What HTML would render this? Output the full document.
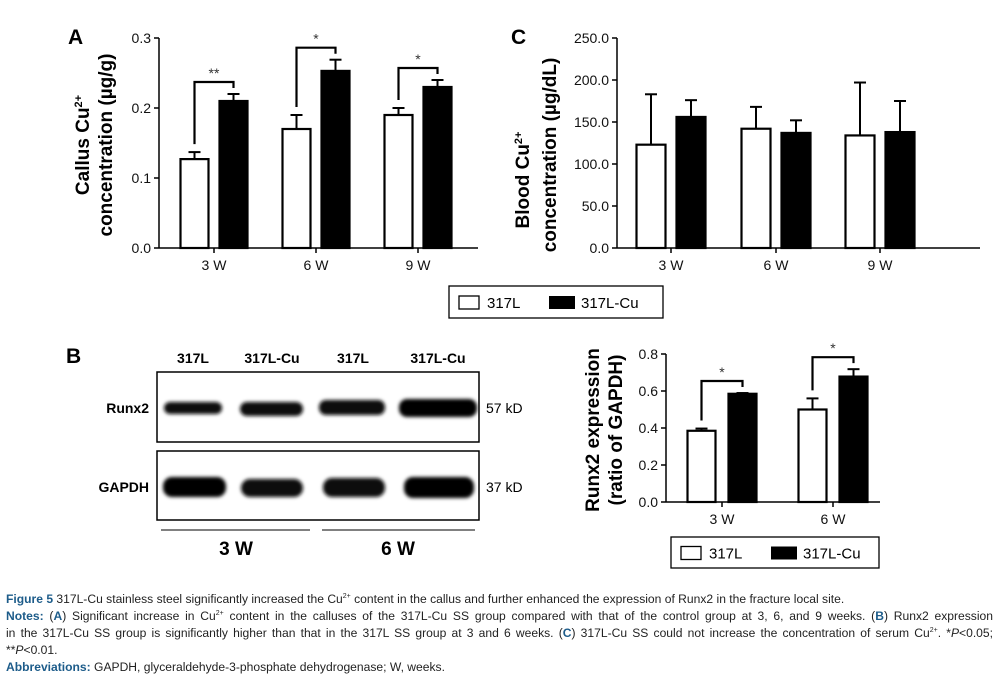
<!DOCTYPE html>
<html><head><meta charset="utf-8"><style>
body{margin:0;background:#fff;width:1002px;height:679px;overflow:hidden;font-family:"Liberation Sans",sans-serif}
svg text{font-family:"Liberation Sans",sans-serif}
.cap{position:absolute;left:6px;width:987px;font-size:12.1px;line-height:17px;color:#222;white-space:nowrap}
.cap div{height:17px}
.cap .j{text-align:justify;text-align-last:justify}
.cap b{color:#1d5c8a}
.cap sup{font-size:7px;vertical-align:baseline;line-height:0;position:relative;top:-5px}
</style></head><body>
<svg id="fig" width="1002" height="590" style="position:absolute;left:0;top:0">
<defs><filter id="blur"><feGaussianBlur stdDeviation="1.8"/></filter></defs>
<g id="blot">
<text x="66" y="363" font-size="21" font-weight="bold">B</text>
<rect x="157" y="372" width="322" height="70" fill="none" stroke="#000" stroke-width="1.5"/>
<rect x="157" y="451" width="322" height="69" fill="none" stroke="#000" stroke-width="1.5"/>
<g filter="url(#blur)">
<rect x="164" y="402" width="58" height="12" rx="6" fill="#111"/>
<rect x="240" y="402" width="63" height="14" rx="7" fill="#111"/>
<rect x="319" y="400" width="66" height="15" rx="7" fill="#111"/>
<rect x="399" y="399" width="78" height="18" rx="8" fill="#000"/>
<rect x="163" y="477" width="63" height="20" rx="9" fill="#000"/>
<rect x="241" y="479" width="62" height="18" rx="9" fill="#111"/>
<rect x="323" y="478" width="62" height="19" rx="9" fill="#111"/>
<rect x="404" y="477" width="70" height="21" rx="9" fill="#000"/>
</g>
<g font-size="14" font-weight="bold" text-anchor="middle">
<text x="193" y="363">317L</text><text x="272" y="363">317L-Cu</text>
<text x="353" y="363">317L</text><text x="438" y="363">317L-Cu</text>
</g>
<text x="149" y="413" font-size="14" font-weight="bold" text-anchor="end">Runx2</text>
<text x="149" y="492" font-size="14" font-weight="bold" text-anchor="end">GAPDH</text>
<text x="486" y="413" font-size="14">57 kD</text>
<text x="486" y="492" font-size="14">37 kD</text>
<line x1="161" y1="530" x2="310" y2="530" stroke="#000"/>
<line x1="322" y1="530" x2="475" y2="530" stroke="#000"/>
<text x="236" y="555" font-size="19" font-weight="bold" text-anchor="middle">3 W</text>
<text x="398" y="555" font-size="19" font-weight="bold" text-anchor="middle">6 W</text>
</g>
</svg>
<div class="cap" style="top:591px">
<div><b>Figure 5</b> 317L-Cu stainless steel significantly increased the Cu<sup>2+</sup> content in the callus and further enhanced the expression of Runx2 in the fracture local site.</div>
<div class="j"><b>Notes:</b> (<b>A</b>) Significant increase in Cu<sup>2+</sup> content in the calluses of the 317L-Cu SS group compared with that of the control group at 3, 6, and 9 weeks. (<b>B</b>) Runx2 expression</div>
<div class="j">in the 317L-Cu SS group is significantly higher than that in the 317L SS group at 3 and 6 weeks. (<b>C</b>) 317L-Cu SS could not increase the concentration of serum Cu<sup>2+</sup>. *<i>P</i>&lt;0.05;</div>
<div>**<i>P</i>&lt;0.01.</div>
<div><b>Abbreviations:</b> GAPDH, glyceraldehyde-3-phosphate dehydrogenase; W, weeks.</div>
</div>
<script>
// Panel A data
const catsA = ["3 W","6 W","9 W"];
const ctrlA = [0.127,0.170,0.190];
const ctrlErrA = [0.010,0.020,0.010];
const cuA = [0.210,0.253,0.230];
const cuErrA = [0.010,0.016,0.010];
const sigA = ["**","*","*"];
const ticksA = ["0.0","0.1","0.2","0.3"];
// Panel C data
const catsC = ["3 W","6 W","9 W"];
const ctrlC = [123,142,134];
const ctrlErrC = [60,26,63];
const cuC = [156,137,138];
const cuErrC = [20,15,37];
const ticksC = ["0.0","50.0","100.0","150.0","200.0","250.0"];
// Panel B data
const catsB = ["3 W","6 W"];
const ctrlB = [0.385,0.500];
const ctrlErrB = [0.012,0.060];
const cuB = [0.585,0.678];
const cuErrB = [0.004,0.040];
const sigB = ["*","*"];
const ticksB = ["0.0","0.2","0.4","0.6","0.8"];

const NS="http://www.w3.org/2000/svg";
const svg=document.getElementById('fig');
function el(tag,attrs,parent){const e=document.createElementNS(NS,tag);for(const k in attrs)e.setAttribute(k,attrs[k]);(parent||svg).appendChild(e);return e;}
function txt(s,attrs,parent){const e=el('text',attrs,parent);e.textContent=s;return e;}

function panel(cfg){
  const g=el('g',{});
  
  
  const {x0,x1,y0,y1,max}=cfg;
  const Y=v=>y0-(v/max)*(y0-y1);
  const ya=el('line',{x1:x0,y1:y1,x2:x0,y2:y0,stroke:'#000','stroke-width':1.5},g);
  
  
  const xa=el('line',{x1:x0,y1:y0,x2:x1,y2:y0,stroke:'#000','stroke-width':1.5},g);
  
  
  cfg.ticks.forEach((t)=>{
    const v=parseFloat(t);const yy=Y(v);
    el('line',{x1:x0-5,y1:yy,x2:x0,y2:yy,stroke:'#000','stroke-width':1.5},g);
    const tl=txt(t,{x:x0-8,y:yy+5,'font-size':14,'text-anchor':'end',fill:'#111'},g);
    
    
  });
  cfg.cats.forEach((c,i)=>{
    const cx=cfg.tx[i];
    el('line',{x1:cx,y1:y0,x2:cx,y2:y0+5,stroke:'#000','stroke-width':1.5},g);
    const cl=txt(c,{x:cx,y:y0+22,'font-size':14,'text-anchor':'middle',fill:'#111'},g);
    
    
    const w=cfg.bw,gap=cfg.gap;
    const xs=[cx-gap/2-w,cx+gap/2];
    const vals=[cfg.ctrl[i],cfg.cu[i]],errs=[cfg.ctrlErr[i],cfg.cuErr[i]];
    vals.forEach((v,j)=>{
      const bx=xs[j];
      el('line',{x1:bx+w/2,y1:Y(v),x2:bx+w/2,y2:Y(v+errs[j]),stroke:'#000','stroke-width':2},g);
      el('line',{x1:bx+w/2-6,y1:Y(v+errs[j]),x2:bx+w/2+6,y2:Y(v+errs[j]),stroke:'#000','stroke-width':2},g);
      const r=el('rect',{x:bx,y:Y(v),width:w,height:y0-Y(v),fill:j?'#000':'#fff',stroke:'#000','stroke-width':2.2},g);
      
      
    });
    if(cfg.sig){
      const lx=xs[0]+w/2,rx=xs[1]+w/2;
      const top=Math.min(Y(vals[0]+errs[0]),Y(vals[1]+errs[1]))-cfg.bh;
      el('polyline',{points:`${lx},${Y(vals[0]+errs[0])-8} ${lx},${top} ${rx},${top} ${rx},${Y(vals[1]+errs[1])-6}`,fill:'none',stroke:'#000','stroke-width':2.2},g);
      const s=txt(cfg.sig[i],{x:(lx+rx)/2,y:top-4,'font-size':14,'text-anchor':'middle',fill:'#333'},g);
      
      
    }
  });
  return {g,Y};
}
function ytitleLine(html,x,y,g){
  const t=el('text',{transform:`translate(${x},${y}) rotate(-90)`,'font-size':19,'font-weight':'bold','text-anchor':'middle'},g);
  
  
  t.innerHTML=html;
}
function legend(x,y,w,h){
  const g=el('g',{});
  
  
  el('rect',{x:x,y:y,width:w,height:h,fill:'#fff',stroke:'#000','stroke-width':1.3},g);
  el('rect',{x:x+10,y:y+h/2-6,width:20,height:13,fill:'#fff',stroke:'#000','stroke-width':1.3},g);
  txt('317L',{x:x+38,y:y+h/2+6,'font-size':15},g);
  el('rect',{x:x+100,y:y+h/2-6,width:26,height:13,fill:'#000'},g);
  txt('317L-Cu',{x:x+132,y:y+h/2+6,'font-size':15},g);
}
const A=panel({name:'chart-a-callus',x0:159,x1:478,y0:248,y1:38,max:0.3,ticks:ticksA,cats:catsA,tx:[214,316,418],bw:28,gap:11,ctrl:ctrlA,ctrlErr:ctrlErrA,cu:cuA,cuErr:cuErrA,sig:sigA,bh:12});
txt('A',{x:68,y:44,'font-size':21,'font-weight':'bold'},A.g);
ytitleLine('Callus Cu<tspan font-size="11" dy="-7">2+</tspan>',89,145,A.g);
ytitleLine('concentration (µg/g)',112,145,A.g);
const C=panel({name:'chart-c-blood',x0:617,x1:980,y0:248,y1:38,max:250,ticks:ticksC,cats:catsC,tx:[671,776,880],bw:29,gap:11,ctrl:ctrlC,ctrlErr:ctrlErrC,cu:cuC,cuErr:cuErrC});
txt('C',{x:511,y:44,'font-size':21,'font-weight':'bold'},C.g);
ytitleLine('Blood Cu<tspan font-size="11" dy="-7">2+</tspan>',529,180,C.g);
ytitleLine('concentration (µg/dL)',556,155,C.g);
legend(449,286,214,32);
const B=panel({name:'chart-b-runx2',x0:666,x1:880,y0:502,y1:354,max:0.8,ticks:ticksB,cats:catsB,tx:[722,833],bw:28,gap:13,ctrl:ctrlB,ctrlErr:ctrlErrB,cu:cuB,cuErr:cuErrB,sig:sigB,bh:12});
ytitleLine('Runx2 expression',599,430,B.g);
ytitleLine('(ratio of GAPDH)',622,430,B.g);
legend(671,537,208,31);
</script>
</body></html>
